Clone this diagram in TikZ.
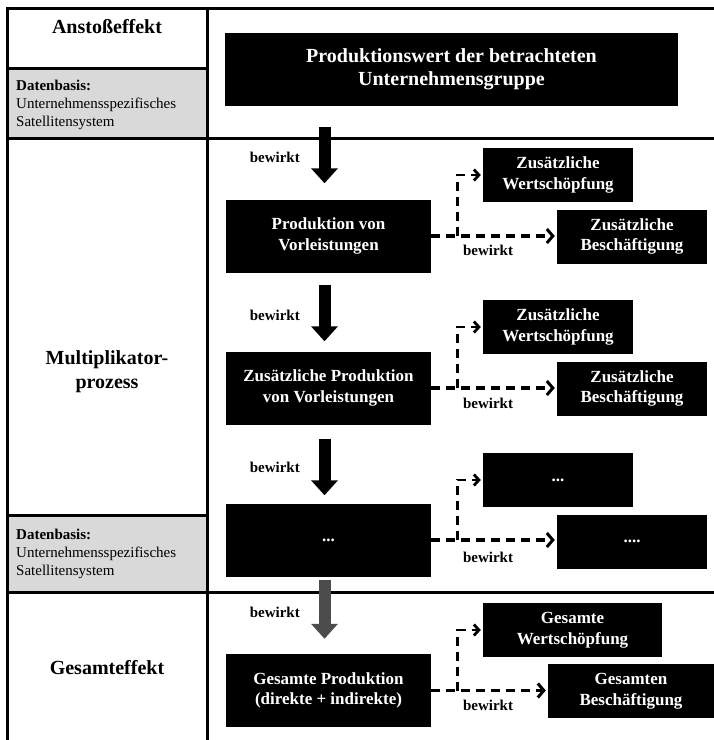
\documentclass[tikz,border=0pt]{standalone}
\usepackage{fontspec}
\setmainfont{Liberation Serif}
\usetikzlibrary{arrows.meta,calc}

\tikzset{
  rule/.style={line width=3pt},
  datacell/.style={fill=gray!30},
  blackbox/.style={fill=black, text=white, font=\bfseries\fontsize{17}{20.5}\selectfont,
    align=center, inner sep=0pt, minimum width=205pt, minimum height=73pt},
  smallbox/.style={blackbox, minimum width=150pt, minimum height=54pt},
  blockarrow/.style={line width=12pt, -{Triangle[width=26pt,length=15pt]}},
  greyarrow/.style={blockarrow, draw=black!70, fill=black!70},
  dasharrow/.style={line width=3.5pt, dash pattern=on 9pt off 6pt, shorten >=2pt,
    -{Straight Barb[length=6pt,width=14pt,line width=3pt]}},
  vdasharrow/.style={dasharrow, line width=2.8pt,
    -{Straight Barb[length=5pt,width=11pt,line width=2.8pt]}},
  lbl/.style={font=\bfseries\fontsize{15}{18}\selectfont, inner sep=0pt},
  headtext/.style={font=\bfseries\fontsize{20}{24}\selectfont, align=center, inner sep=0pt},
  dbase/.style={font=\fontsize{15}{18}\selectfont, align=left, inner sep=0pt, anchor=west},
}

\begin{document}
\begin{tikzpicture}[x=1pt,y=-1pt]
\useasboundingbox (0,0) rectangle (714,740);

% grey data cells
\fill[datacell] (7,68) rectangle (207,138);
\fill[datacell] (7,515) rectangle (207,592);

% table rules
\draw[rule] (7,740) -- (7,8) -- (714,8);
\draw[rule] (207,8) -- (207,740);
\draw[rule] (7,68) -- (207,68);
\draw[rule] (7,138) -- (714,138);
\draw[rule] (7,515) -- (207,515);
\draw[rule] (7,592) -- (714,592);

% left column texts
\node[headtext] (anstoss) at (107,27) {Anstoßeffekt};
\node[dbase] (db1) at (16,105) {\textbf{Datenbasis:}\\Unternehmensspezifisches\\Satellitensystem};
\node[headtext] (multi) at (107,372) {Multiplikator-\\prozess};
\node[dbase] (db2) at (16,554) {\textbf{Datenbasis:}\\Unternehmensspezifisches\\Satellitensystem};
\node[headtext] (gesamt) at (107,668) {Gesamteffekt};

% right column boxes
\node[blackbox, minimum width=453pt, font=\bfseries\fontsize{20}{23}\selectfont] (top) at (451.5,69.5)
  {Produktionswert der betrachteten\\Unternehmensgruppe};

\node[blackbox] (p1) at (328.5,236) {Produktion von\\Vorleistungen};
\node[smallbox] (w1) at (558,175) {Zusätzliche\\Wertschöpfung};
\node[smallbox] (e1) at (632,236.5) {Zusätzliche\\Beschäftigung};

\node[blackbox] (p2) at (328.5,388) {Zusätzliche Produktion\\von Vorleistungen};
\node[smallbox] (w2) at (558,327) {Zusätzliche\\Wertschöpfung};
\node[smallbox] (e2) at (632,388.5) {Zusätzliche\\Beschäftigung};

\node[blackbox] (p3) at (328.5,540) {...};
\node[smallbox] (w3) at (558,480) {...};
\node[smallbox] (e3) at (632,541.5) {....};

\node[blackbox] (p4) at (328.5,690.5) {Gesamte Produktion\\(direkte + indirekte)};
\node[smallbox, minimum width=179pt] (w4) at (572.5,630) {Gesamte\\Wertschöpfung};
\node[smallbox, minimum width=166pt] (e4) at (631,691) {Gesamten\\Beschäftigung};

% block arrows
\draw[blockarrow, shorten <=21pt, shorten >=16pt] ([xshift=-4pt]top.south -| p1.north) -- ([xshift=-4pt]p1.north);
\draw[blockarrow, shorten <=12pt, shorten >=10pt] ([xshift=-4pt]p1.south) -- ([xshift=-4pt]p2.north);
\draw[blockarrow, shorten <=14pt, shorten >=8pt] ([xshift=-4pt]p2.south) -- ([xshift=-4pt]p3.north);
\draw[greyarrow, shorten <=3pt, shorten >=15pt] ([xshift=-4pt]p3.south) -- ([xshift=-4pt]p4.north);

\node[lbl, anchor=east] (bw1) at (300,157) {bewirkt};
\node[lbl, anchor=east] (bw2) at (300,315) {bewirkt};
\node[lbl, anchor=east] (bw3) at (300,467) {bewirkt};
\node[lbl, anchor=east] (bw4) at (300,612) {bewirkt};

% dashed connectors
\foreach \i in {1,2,3,4}{
  \path (p\i.east) ++(26,0) coordinate (j\i);
  \draw[dasharrow] (p\i.east) -- (p\i.east -| e\i.west);
  \draw[vdasharrow] (j\i) |- (w\i.west);
}
\node[lbl] (r1) at (488,250) {bewirkt};
\node[lbl] (r2) at (488,403) {bewirkt};
\node[lbl] (r3) at (488,557) {bewirkt};
\node[lbl] (r4) at (488,705) {bewirkt};
\end{tikzpicture}
\end{document}
